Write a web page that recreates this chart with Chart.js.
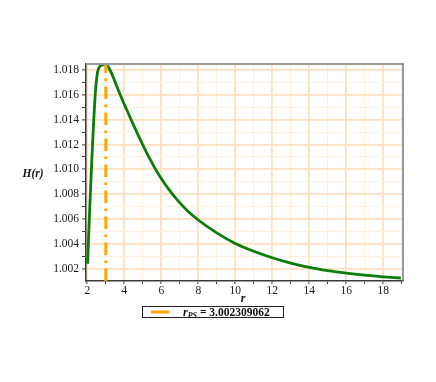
<!DOCTYPE html>
<html>
<head>
<meta charset="utf-8">
<script src="https://cdn.jsdelivr.net/npm/chart.js@4/dist/chart.umd.min.js"></script>
<style>
  html, body { margin: 0; padding: 0; background: #ffffff; }
  #wrap { width: 436px; height: 382px; }
</style>
</head>
<body>
<div id="wrap"><canvas id="c" width="436" height="382"></canvas></div>
<script>
// ---- data ----
const rValues = [2.02, 2.07, 2.12, 2.17, 2.22, 2.28, 2.35, 2.41, 2.47, 2.54, 2.62, 2.7, 2.8, 2.9, 3.0, 3.1, 3.2, 3.35, 3.5, 3.65, 3.78, 4.0, 4.25, 4.5, 4.75, 5.0, 5.34, 5.68, 6.0, 6.4, 6.85, 7.4, 8, 9, 10, 11, 12, 13, 14, 15, 16, 17, 18, 18.95];
const hValues = [1.0024, 1.0045, 1.0064, 1.0082, 1.0099, 1.0119, 1.0140, 1.0156, 1.0168, 1.0177, 1.01815, 1.01832, 1.01840, 1.01843, 1.01842, 1.01832, 1.01808, 1.0176, 1.01705, 1.01648, 1.01600, 1.01524, 1.01440, 1.01357, 1.01276, 1.01197, 1.01096, 1.01004, 1.00926, 1.00840, 1.00756, 1.00669, 1.00592, 1.00488, 1.00403, 1.00340, 1.00288, 1.00245, 1.00210, 1.00184, 1.00164, 1.00148, 1.00135, 1.00125];
const rPS = 3.002309062;
const legendLabel = "3.002309062";
const xMajorTicks = [2, 4, 6, 8, 10, 12, 14, 16, 18];
const xMinorTicks = [3, 5, 7, 9, 11, 13, 15, 17, 19];
const yMajorTicks = [1.002, 1.004, 1.006, 1.008, 1.010, 1.012, 1.014, 1.016, 1.018];
const yMinorTicks = [1.003, 1.005, 1.007, 1.009, 1.011, 1.013, 1.015, 1.017];
const xRange = [1.93, 19.07];
const yRange = [1.00101, 1.01848];

const curve = rValues.map((r, i) => ({ x: r, y: hValues[i] }));
const vline = [{ x: rPS, y: yRange[0] }, { x: rPS, y: yRange[1] }];

const isMajor = (arr, v) => arr.some(m => Math.abs(m - v) < 1e-9);
const MAJOR = 'rgba(255,224,190,1)';
const MINOR = 'rgba(255,239,224,1)';

const decor = {
  id: 'decor',
  afterDraw(chart) {
    const ctx = chart.ctx;
    const a = chart.chartArea;
    ctx.save();
    // top and right frame
    ctx.strokeStyle = '#9a9a9a';
    ctx.lineWidth = 2;
    ctx.beginPath();
    ctx.moveTo(a.left, a.top);
    ctx.lineTo(a.right, a.top);
    ctx.stroke();
    ctx.strokeStyle = '#777777';
    ctx.lineWidth = 1.5;
    ctx.beginPath();
    ctx.moveTo(a.right, a.top - 1);
    ctx.lineTo(a.right, a.bottom);
    ctx.stroke();
    // axis titles
    ctx.fillStyle = '#111';
    ctx.textAlign = 'center';
    ctx.textBaseline = 'middle';
    ctx.font = 'italic bold 11.5px "Liberation Serif", serif';
    ctx.fillText('H(r)', 33, 174);
    ctx.font = 'italic bold 12px "Liberation Serif", serif';
    ctx.fillText('r', 243, 299);
    // legend box
    ctx.strokeStyle = '#222';
    ctx.lineWidth = 1;
    ctx.strokeRect(142.5, 306.5, 141, 11);
    ctx.strokeStyle = '#FFA500';
    ctx.lineWidth = 3;
    ctx.beginPath();
    ctx.moveTo(151, 312);
    ctx.lineTo(169, 312);
    ctx.stroke();
    ctx.textAlign = 'left';
    ctx.textBaseline = 'alphabetic';
    let x = 183;
    const base = 315.5;
    ctx.font = 'italic bold 12px "Liberation Serif", serif';
    ctx.fillText('r', x, base);
    x += ctx.measureText('r').width;
    ctx.font = 'italic bold 8px "Liberation Serif", serif';
    ctx.fillText('PS', x, base + 2);
    x += ctx.measureText('PS').width;
    ctx.font = 'bold 11.5px "Liberation Serif", serif';
    ctx.fillText(' = ' + legendLabel, x, base);
    ctx.restore();
  }
};

new Chart(document.getElementById('c'), {
  type: 'line',
  data: {
    datasets: [
      {
        label: 'rPS',
        data: vline,
        borderColor: '#FFA500',
        borderWidth: 3,
        borderDash: [12.5, 5.5, 2.5, 5.5],
        pointRadius: 0,
        fill: false,
        order: 0
      },
      {
        label: 'H(r)',
        data: curve,
        borderColor: '#0a7d0a',
        borderWidth: 2.8,
        pointRadius: 0,
        fill: false,
        cubicInterpolationMode: 'monotone',
        order: 1
      }
    ]
  },
  options: {
    responsive: false,
    animation: false,
    layout: { padding: { left: 0, top: 64, right: 33, bottom: 0 } },
    plugins: { legend: { display: false }, tooltip: { enabled: false } },
    scales: {
      x: {
        type: 'linear',
        min: xRange[0],
        max: xRange[1],
        afterFit(s) { s.height = 101; },
        afterBuildTicks(s) {
          s.ticks = xMajorTicks.concat(xMinorTicks).sort((a, b) => a - b).map(v => ({ value: v }));
        },
        border: { display: true, color: '#3a3a3a', width: 1.5 },
        grid: {
          color: c => (c.tick && isMajor(xMajorTicks, c.tick.value)) ? MAJOR : MINOR,
          lineWidth: c => (c.tick && isMajor(xMajorTicks, c.tick.value)) ? 1.8 : 1,
          drawTicks: true,
          tickLength: 3,
          tickColor: '#3a3a3a',
          tickWidth: 1
        },
        ticks: {
          autoSkip: false,
          maxRotation: 0,
          padding: 0,
          color: '#1a1a1a',
          font: { family: '"Liberation Serif", serif', size: 11.5 },
          callback: v => isMajor(xMajorTicks, v) ? String(v) : ''
        }
      },
      y: {
        type: 'linear',
        min: yRange[0],
        max: yRange[1],
        afterFit(s) { s.width = 86; },
        afterBuildTicks(s) {
          s.ticks = yMajorTicks.concat(yMinorTicks).sort((a, b) => a - b).map(v => ({ value: v }));
        },
        border: { display: true, color: '#3a3a3a', width: 1.5 },
        grid: {
          color: c => (c.tick && isMajor(yMajorTicks, c.tick.value)) ? MAJOR : MINOR,
          lineWidth: c => (c.tick && isMajor(yMajorTicks, c.tick.value)) ? 1.8 : 1,
          drawTicks: true,
          tickLength: 4,
          tickColor: '#3a3a3a',
          tickWidth: 1
        },
        ticks: {
          autoSkip: false,
          padding: 3,
          color: '#1a1a1a',
          font: { family: '"Liberation Serif", serif', size: 11.5 },
          callback: v => isMajor(yMajorTicks, v) ? v.toFixed(3) : ''
        }
      }
    }
  },
  plugins: [decor]
});
</script>
</body>
</html>
